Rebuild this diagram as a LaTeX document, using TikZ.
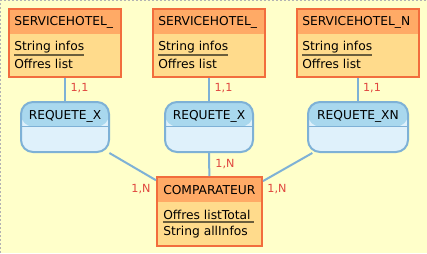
\documentclass[tikz,border=0pt]{standalone}
\usepackage{fontspec}
\setmainfont{DejaVu Sans}
\usetikzlibrary{positioning}
\definecolor{sheet}{HTML}{FFFFCA}
\definecolor{entline}{HTML}{F26D3D}
\definecolor{enthead}{HTML}{FFAA66}
\definecolor{entbody}{HTML}{FFDB8C}
\definecolor{relline}{HTML}{7EB1D6}
\definecolor{relhead}{HTML}{A9D8EE}
\definecolor{relbody}{HTML}{DFF1FB}
\definecolor{card}{HTML}{E0463F}
\definecolor{uline}{HTML}{6B5E3C}

\begin{document}
\begin{tikzpicture}[x=0.75pt, y=-0.75pt]
	\tikzstyle{every node}=[font=\fontsize{9.2}{11}\selectfont]
	\tikzstyle{entity}=[draw=entline, line width=1.5pt, fill=entbody, inner sep=0pt, minimum height=51pt,
		path picture={\fill[enthead] (path picture bounding box.north west) rectangle ([yshift=-18.75pt]path picture bounding box.north east);}]
	\tikzstyle{relation}=[draw=relline, line width=1.5pt, fill=relbody, rounded corners=9pt, inner sep=0pt, minimum height=37.5pt,
		path picture={\fill[relhead] (path picture bounding box.north west) rectangle ([yshift=-18.4pt]path picture bounding box.north east);
		\draw[relline, line width=1pt] ([yshift=-18.4pt]path picture bounding box.north west) -- ([yshift=-18.4pt]path picture bounding box.north east);}]
	\tikzstyle{attr}=[anchor=west, inner sep=0pt]
	\tikzstyle{ul}=[uline, line width=1.2pt]
	\tikzstyle{link}=[relline, line width=1.5pt]
	\tikzstyle{card}=[text=card, font=\fontsize{8.4}{10}\selectfont]

	\useasboundingbox (0,0) rectangle (427,253);
	\fill[sheet] (0,0) rectangle (427,253);
	\draw[gray!60, line width=0.75pt, dash pattern=on 1.5pt off 1.5pt] (0.5,253) -- (0.5,0.5) -- (427,0.5);

	\node[entity, minimum width=84pt] (s1) at (65,43) {};
	\node[entity, minimum width=84pt] (s2) at (209,43) {};
	\node[entity, minimum width=91.5pt] (s3) at (358,43) {};
	\node[entity, minimum width=78.75pt, minimum height=51.75pt] (comp) at (209.5,211.5) {};

	\node[relation, minimum width=66pt] (r1) at (65,127) {};
	\node[relation, minimum width=66pt] (r2) at (209,127) {};
	\node[relation, minimum width=75pt] (r3) at (358,127) {};

	\draw[link] (s1) -- (r1);
	\draw[link] (s2) -- (r2);
	\draw[link] (s3) -- (r3);
	\draw[link] (r1) -- (comp);
	\draw[link] (r2) -- (comp);
	\draw[link] (r3) -- (comp);

	\node[attr] (s1n) at (14,22) {SERVICEHOTEL\_};
	\node[attr] (s1a) at (14,47) {String infos};
	\node[attr] (s1b) at (14,64) {Offres list};
	\node[attr] (s2n) at (158,22) {SERVICEHOTEL\_};
	\node[attr] (s2a) at (158,47) {String infos};
	\node[attr] (s2b) at (158,64) {Offres list};
	\node[attr] (s3n) at (302,22) {SERVICEHOTEL\_N};
	\node[attr] (s3a) at (302,47) {String infos};
	\node[attr] (s3b) at (302,64) {Offres list};
	\node[attr] (cn) at (163,190) {COMPARATEUR};
	\node[attr] (ca) at (163,215) {Offres listTotal};
	\node[attr] (cb) at (163,232) {String allInfos};
	\draw[ul] ([yshift=-1.5pt]s1a.south west) -- ([yshift=-1.5pt]s1a.south east);
	\draw[ul] ([yshift=-1.5pt]s2a.south west) -- ([yshift=-1.5pt]s2a.south east);
	\draw[ul] ([yshift=-1.5pt]s3a.south west) -- ([yshift=-1.5pt]s3a.south east);
	\draw[ul] ([yshift=-1.5pt]ca.south west) -- ([xshift=2pt, yshift=-1.5pt]ca.south east);

	\node (r1n) at (65,116) {REQUETE\_X};
	\node (r2n) at (209,116) {REQUETE\_X};
	\node (r3n) at (358,116) {REQUETE\_XN};

	\node[card] (c1) at (79.5,88.5) {1,1};
	\node[card] (c2) at (223.5,88.5) {1,1};
	\node[card] (c3) at (372,88.5) {1,1};
	\node[card] (c4) at (141,189) {1,N};
	\node[card] (c5) at (225,164) {1,N};
	\node[card] (c6) at (277,189) {1,N};
\end{tikzpicture}
\end{document}
